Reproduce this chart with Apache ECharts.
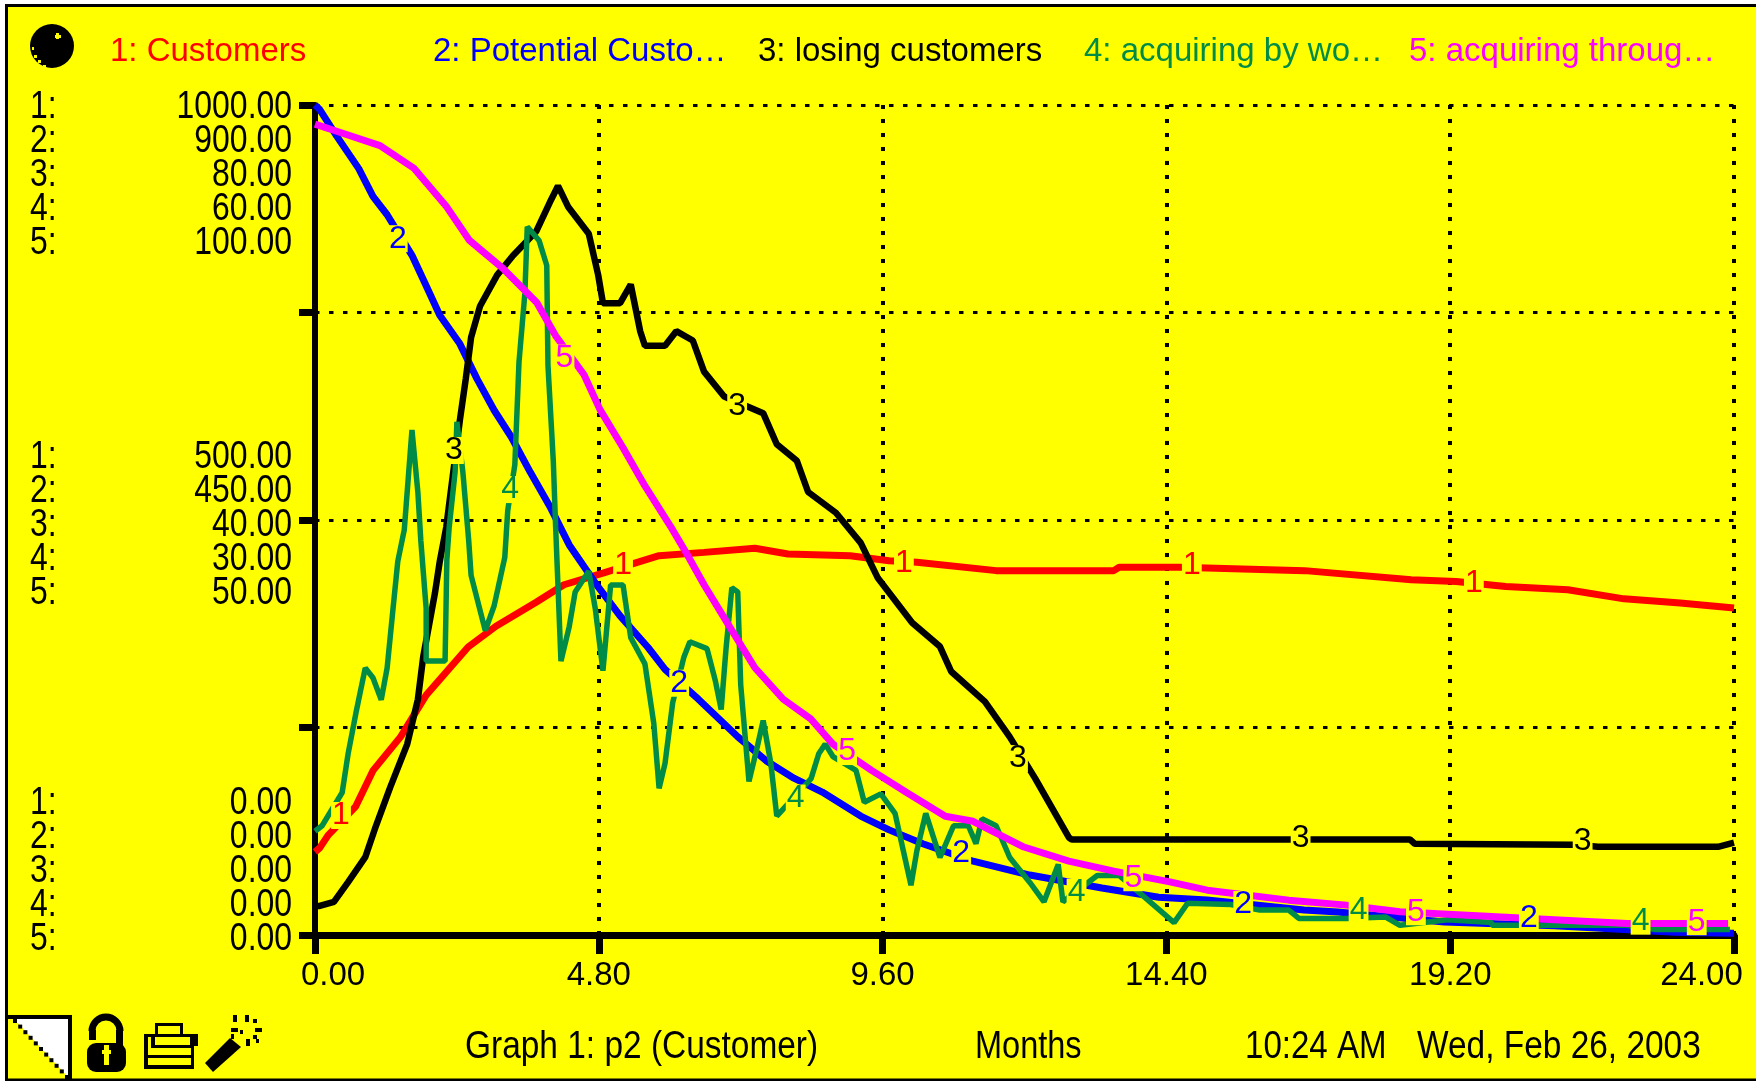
<!DOCTYPE html>
<html><head><meta charset="utf-8"><style>html,body{margin:0;padding:0;background:#fff}#c{width:1756px;height:1081px}</style>
<script src="https://cdn.jsdelivr.net/npm/echarts@6/dist/echarts.min.js"></script></head>
<body><div id="c"></div><script>
const seriesNames=['Customers','Potential Customers','losing customers','acquiring by word of mouth','acquiring through advertising'];
const legendTexts=['1: Customers','2: Potential Custo…','3: losing customers','4: acquiring by wo…','5: acquiring throug…'];
const axisMax=[1000,900,80,60,100];
const rowNames=['1:','2:','3:','4:','5:'];
const topTicks=['1000.00','900.00','80.00','60.00','100.00'];
const midTicks=['500.00','450.00','40.00','30.00','50.00'];
const lowTicks=['0.00','0.00','0.00','0.00','0.00'];
const footer=['Graph 1: p2 (Customer)','Months','10:24 AM','Wed, Feb 26, 2003'];
const colors=['#FF0000','#0000FF','#000000','#008C46','#FF00FF'];

const t1=[0,.08,.22,.69,.98,1.45,1.88,2.59,3.06,3.74,4.21,4.87,5.45,5.82,6.58,7.44,8,9.05,9.71,10.18,11.52,13.51,13.6,14.63,16.74,18.54,19.3,20.14,21.19,22.14,23.09,24];
const v1=[100,105,120,155,198,239,289,347,372,401,422,436,449,457,461,466,459,457,451,449,439,439,443,443,439,428,426,420,416,405,400,394];
const t2=[0,.08,.37,.74,.98,1.22,1.64,1.88,2.11,2.45,2.74,3.03,3.32,3.64,3.97,4.3,4.77,5.16,5.63,5.92,6.48,7.15,7.63,8.1,8.58,9.23,9.71,10.28,11.13,12.09,13.31,14.27,15.09,16.73,17.3,19.1,20.96,23,24];
const v2=[900,895,866,831,801,781,737,704,672,641,603,569,540,502,465,423,379,346,312,288,256,215,189,170,155,129,114,99,80,65,51,41,38,27,25,14,10,3,2];
const t3=[0,.08,.32,.56,.85,1.03,1.27,1.56,1.74,1.83,2.03,2.11,2.22,2.45,2.55,2.64,2.79,3.08,3.35,3.74,3.97,4.11,4.28,4.63,4.79,4.87,5.16,5.34,5.5,5.58,5.92,6.11,6.39,6.58,6.92,7.58,7.81,8.15,8.34,8.81,9.23,9.52,10.1,10.57,10.76,11.33,11.75,12.18,12.75,12.8,18.52,18.6,21.3,21.7,23.73,24];
const v3=[2.8,2.8,3.2,5.1,7.5,10.5,14.2,18.4,22.7,26.8,33,36,39.3,49.6,53.6,57.6,60.6,63.6,65.5,67.8,70.6,72.2,70.2,67.6,63.6,60.9,60.9,62.7,58.2,56.8,56.8,58.2,57.3,54.3,51.9,50.3,47.3,45.7,42.7,40.7,37.8,34.4,30.1,27.8,25.4,22.5,19.1,15.1,9.4,9.2,9.2,8.8,8.7,8.5,8.5,8.9];
const t4=[0,.12,.46,.56,.69,.85,.98,1.12,1.22,1.32,1.4,1.51,1.64,1.74,1.79,1.88,1.88,2.2,2.23,2.27,2.37,2.4,2.5,2.6,2.64,2.82,2.88,3.03,3.21,3.26,3.38,3.45,3.55,3.59,3.79,3.92,3.94,4.03,4.07,4.16,4.3,4.4,4.63,4.74,4.87,5,5.21,5.34,5.58,5.73,5.82,5.92,6.05,6.24,6.34,6.63,6.77,6.87,6.95,7.05,7.15,7.2,7.29,7.34,7.48,7.58,7.71,7.81,8.39,8.52,8.63,8.76,9.15,9.29,9.57,9.81,9.95,10.08,10.18,10.33,10.42,10.57,10.8,11.05,11.18,11.28,11.52,11.75,12.09,12.33,12.57,12.65,13.23,13.6,14.04,14.53,14.76,15.49,15.98,16.47,16.64,17.45,18.11,18.35,19.16,19.9,19.91,22.19,22.68,23.93];
const v4=[7.5,7.9,10.3,13.1,16,19.3,18.6,17,19.3,23.6,27,29.3,36.5,32,28.5,23.6,19.8,19.8,27.1,29.5,33.5,37.1,33.5,28.5,26,23,22,23.8,27.3,30.7,34,41.4,46.4,51.2,50.2,48.4,41.2,34.3,29.5,19.8,22.3,24.8,26.3,23.6,19.1,25.3,25.3,21.5,19.6,15.3,10.6,12.4,16.8,20.1,21.2,20.7,18.4,16.3,20.6,25.1,24.8,18.1,13.6,11.1,13.6,15.5,12.4,8.6,11.3,13.1,13.8,12.9,11.9,9.6,10.2,8.8,6.1,3.6,6.1,8.8,7.6,5.6,7.9,7.9,6.6,8.4,7.9,5.6,3.8,2.4,5.1,2.4,4.3,4.3,2.7,.9,2.3,2.2,1.8,1.8,1.2,1.2,1.3,.7,1.1,.9,.7,.7,.4,.4];
const t5=[0,.34,1.1,1.67,2.23,2.61,3.18,3.75,4.07,4.55,4.82,5.21,5.58,6.05,6.29,6.58,7.05,7.44,7.92,8.39,8.76,9.42,10,10.66,11.13,11.99,12.75,13.51,14.46,15.09,16.47,17.45,18.35,19.74,22.19,23.9];
const v5=[97.7,96.9,95.1,92.4,87.7,83.7,80.3,76.2,72.2,67.5,63.3,58.7,54.1,48.8,45.9,42.2,36.7,32.2,28.4,26,23,19.8,17.2,14.3,13.7,10.6,8.9,7.7,6.4,5.4,4.2,3.6,2.8,2.3,1.4,1.4];
const allT=[t1,t2,t3,t4,t5], allV=[v1,v2,v3,v4,v5];

const tagT=[[.44,5.21,9.96,14.83,19.6],[1.4,6.16,10.93,15.7,20.53],[2.35,7.14,11.89,16.67,21.44],[3.3,8.13,12.88,17.65,22.42],[4.22,9,13.84,18.62,23.37]];
const tagV=[[144,445,448,445,424],[755,273,89,33,18],[46.7,51,17,9.3,9],[32.2,9.9,3.1,1.8,1],[69.5,22.1,6.9,2.8,1.6]];

const FONT='"Liberation Sans",sans-serif';
const Y='#FFFF00', K='#000';
const widths=[7,7,6.5,5.5,7];
const legendLeft=[105,428,753,1079,1404];

function txt(text,x,y,align,scale){return{type:'text',z:30,x:x,y:y,scaleX:scale,silent:true,style:{text:text,textAlign:align,textVerticalAlign:'middle',font:'38px '+FONT,fill:K}};}
function rect(x,y,w,h,fill,z){return{type:'rect',z:z||31,silent:true,shape:{x:x,y:y,width:w,height:h},style:{fill:fill||K}};}
function poly(pts,fill,z){return{type:'polygon',z:z||31,silent:true,shape:{points:pts},style:{fill:fill||K}};}

const g=[];
g.push({type:'rect',z:-10,silent:true,shape:{x:6.5,y:5.5,width:1760,height:1074.5},style:{fill:Y,stroke:K,lineWidth:3}});
[topTicks,midTicks,lowTicks].forEach((arr,k)=>{
  const y0=[108,457.5,804][k];
  arr.forEach((s,i)=>{
    const y=y0+i*34;
    g.push(txt(rowNames[i],30,y,'left',.84));
    g.push(txt(s,292,y,'right',.84));
  });
});
g.push(txt(footer[0],465,1048,'left',.88),txt(footer[1],975,1048,'left',.855),txt(footer[2],1245,1048,'left',.87),txt(footer[3],1417,1048,'left',.88));
// ball
g.push({type:'circle',z:31,silent:true,shape:{cx:52,cy:46,r:22},style:{fill:K}});
[[56,35,6,3],[57,33,3,6],[35,55,3,3],[39,60,3,3],[44,65,3,2],[33,47,2,3],[35,66,3,3]].forEach(r=>g.push(rect(r[0]-1,r[1],r[2],r[3],Y,32)));
// page corner
g.push(rect(7,1015,65,4),rect(68,1015,4,65));
g.push(poly([[14,1019],[68,1019],[68,1077]],'#fff'));
for(let i=0;i<11;i++)g.push(rect(13+i*5.2,1019+i*5.6,4,4));
// lock
g.push({type:'arc',z:31,silent:true,shape:{cx:106,cy:1031,r:14,startAngle:Math.PI,endAngle:0,clockwise:true},style:{stroke:K,fill:'none',lineWidth:7}});
g.push(rect(89,1030,7,10),rect(116,1030,7,18));
g.push({type:'rect',z:31,silent:true,shape:{x:87,y:1043,width:39,height:29,r:9},style:{fill:K}});
g.push(rect(104,1045,5,20,Y,32),rect(102,1050,9,4,Y,32));
// printer
g.push(rect(155,1023,28,3),rect(155,1023,3,11),rect(180,1023,3,11));
g.push(rect(144,1034,50,3),rect(144,1034,4,35),rect(191,1034,3,35),rect(144,1065,50,4),rect(144,1055,50,3));
g.push(rect(151,1034,4,12),rect(151,1045,41,3),rect(190,1034,8,12));
// wand
g.push(poly([[205,1063],[230,1038],[241,1047],[213,1072]]));
[[233,1015,4,7],[245,1015,4,7],[253,1019,4,4],[231,1028,7,4],[255,1028,7,4],[240,1030,3,4],[246,1039,4,7],[253,1035,4,4],[256,1039,3,4],[231,1034,3,5]].forEach(r=>g.push(rect(r[0],r[1],r[2],r[3])));

const legends=legendTexts.map((s,i)=>({
  data:[seriesNames[i]],left:legendLeft[i],top:35,padding:0,itemWidth:0,itemHeight:0,itemGap:0,icon:'none',selectedMode:false,
  formatter:()=>s,textStyle:{color:colors[i],fontFamily:FONT,fontSize:33,padding:0}
}));

const yAxes=axisMax.map((m,i)=>i===0?{
  type:'value',min:0,max:m,interval:m/4,position:'left',
  axisLine:{show:true,onZero:false,lineStyle:{color:K,width:6}},
  axisTick:{show:true,length:16,lineStyle:{color:K,width:7}},axisLabel:{show:false},
  splitLine:{show:true,lineStyle:{color:K,width:3,type:[4.5,9.5]}}
}:{type:'value',min:0,max:m,show:false,splitLine:{show:false}});

const series=seriesNames.map((n,i)=>({
  name:n,type:'line',xAxisIndex:0,yAxisIndex:i,z:5+i,symbol:'none',smooth:false,animation:false,color:colors[i],
  lineStyle:{color:colors[i],width:widths[i],join:'bevel'},
  data:allT[i].map((t,k)=>[t,allV[i][k]]),
  markPoint:{z:20+i,animation:false,silent:true,symbol:'rect',symbolSize:1,itemStyle:{color:'transparent'},
    label:{show:true,position:'inside',formatter:String(i+1),color:colors[i],fontFamily:FONT,fontSize:32,backgroundColor:Y,padding:[0,1,0,1],lineHeight:27},
    data:tagT[i].map((t,k)=>({coord:[t,tagV[i][k]]}))}
}));

const chart=echarts.init(document.getElementById('c'),null,{renderer:'canvas',devicePixelRatio:1});
chart.setOption({
  animation:false,backgroundColor:'#fff',
  grid:{left:315,right:22,top:105,bottom:146,containLabel:false},
  legend:legends,tooltip:{show:false},
  xAxis:{type:'value',min:0,max:24,interval:4.8,
    axisLine:{show:true,onZero:false,lineStyle:{color:K,width:7}},
    axisTick:{show:true,length:19,lineStyle:{color:K,width:7}},
    axisLabel:{color:K,fontFamily:FONT,fontSize:33,margin:24,
      formatter:v=>v===0?'{a|0.00}':v===24?'{b|24.00}':v.toFixed(2),
      rich:{a:{fontFamily:FONT,fontSize:33,color:K,padding:[0,0,0,36]},b:{fontFamily:FONT,fontSize:33,color:K,padding:[0,65,0,0]}}},
    splitLine:{show:true,lineStyle:{color:K,width:4,type:[4,10]}}},
  yAxis:yAxes,series:series,graphic:g
});
</script></body></html>
